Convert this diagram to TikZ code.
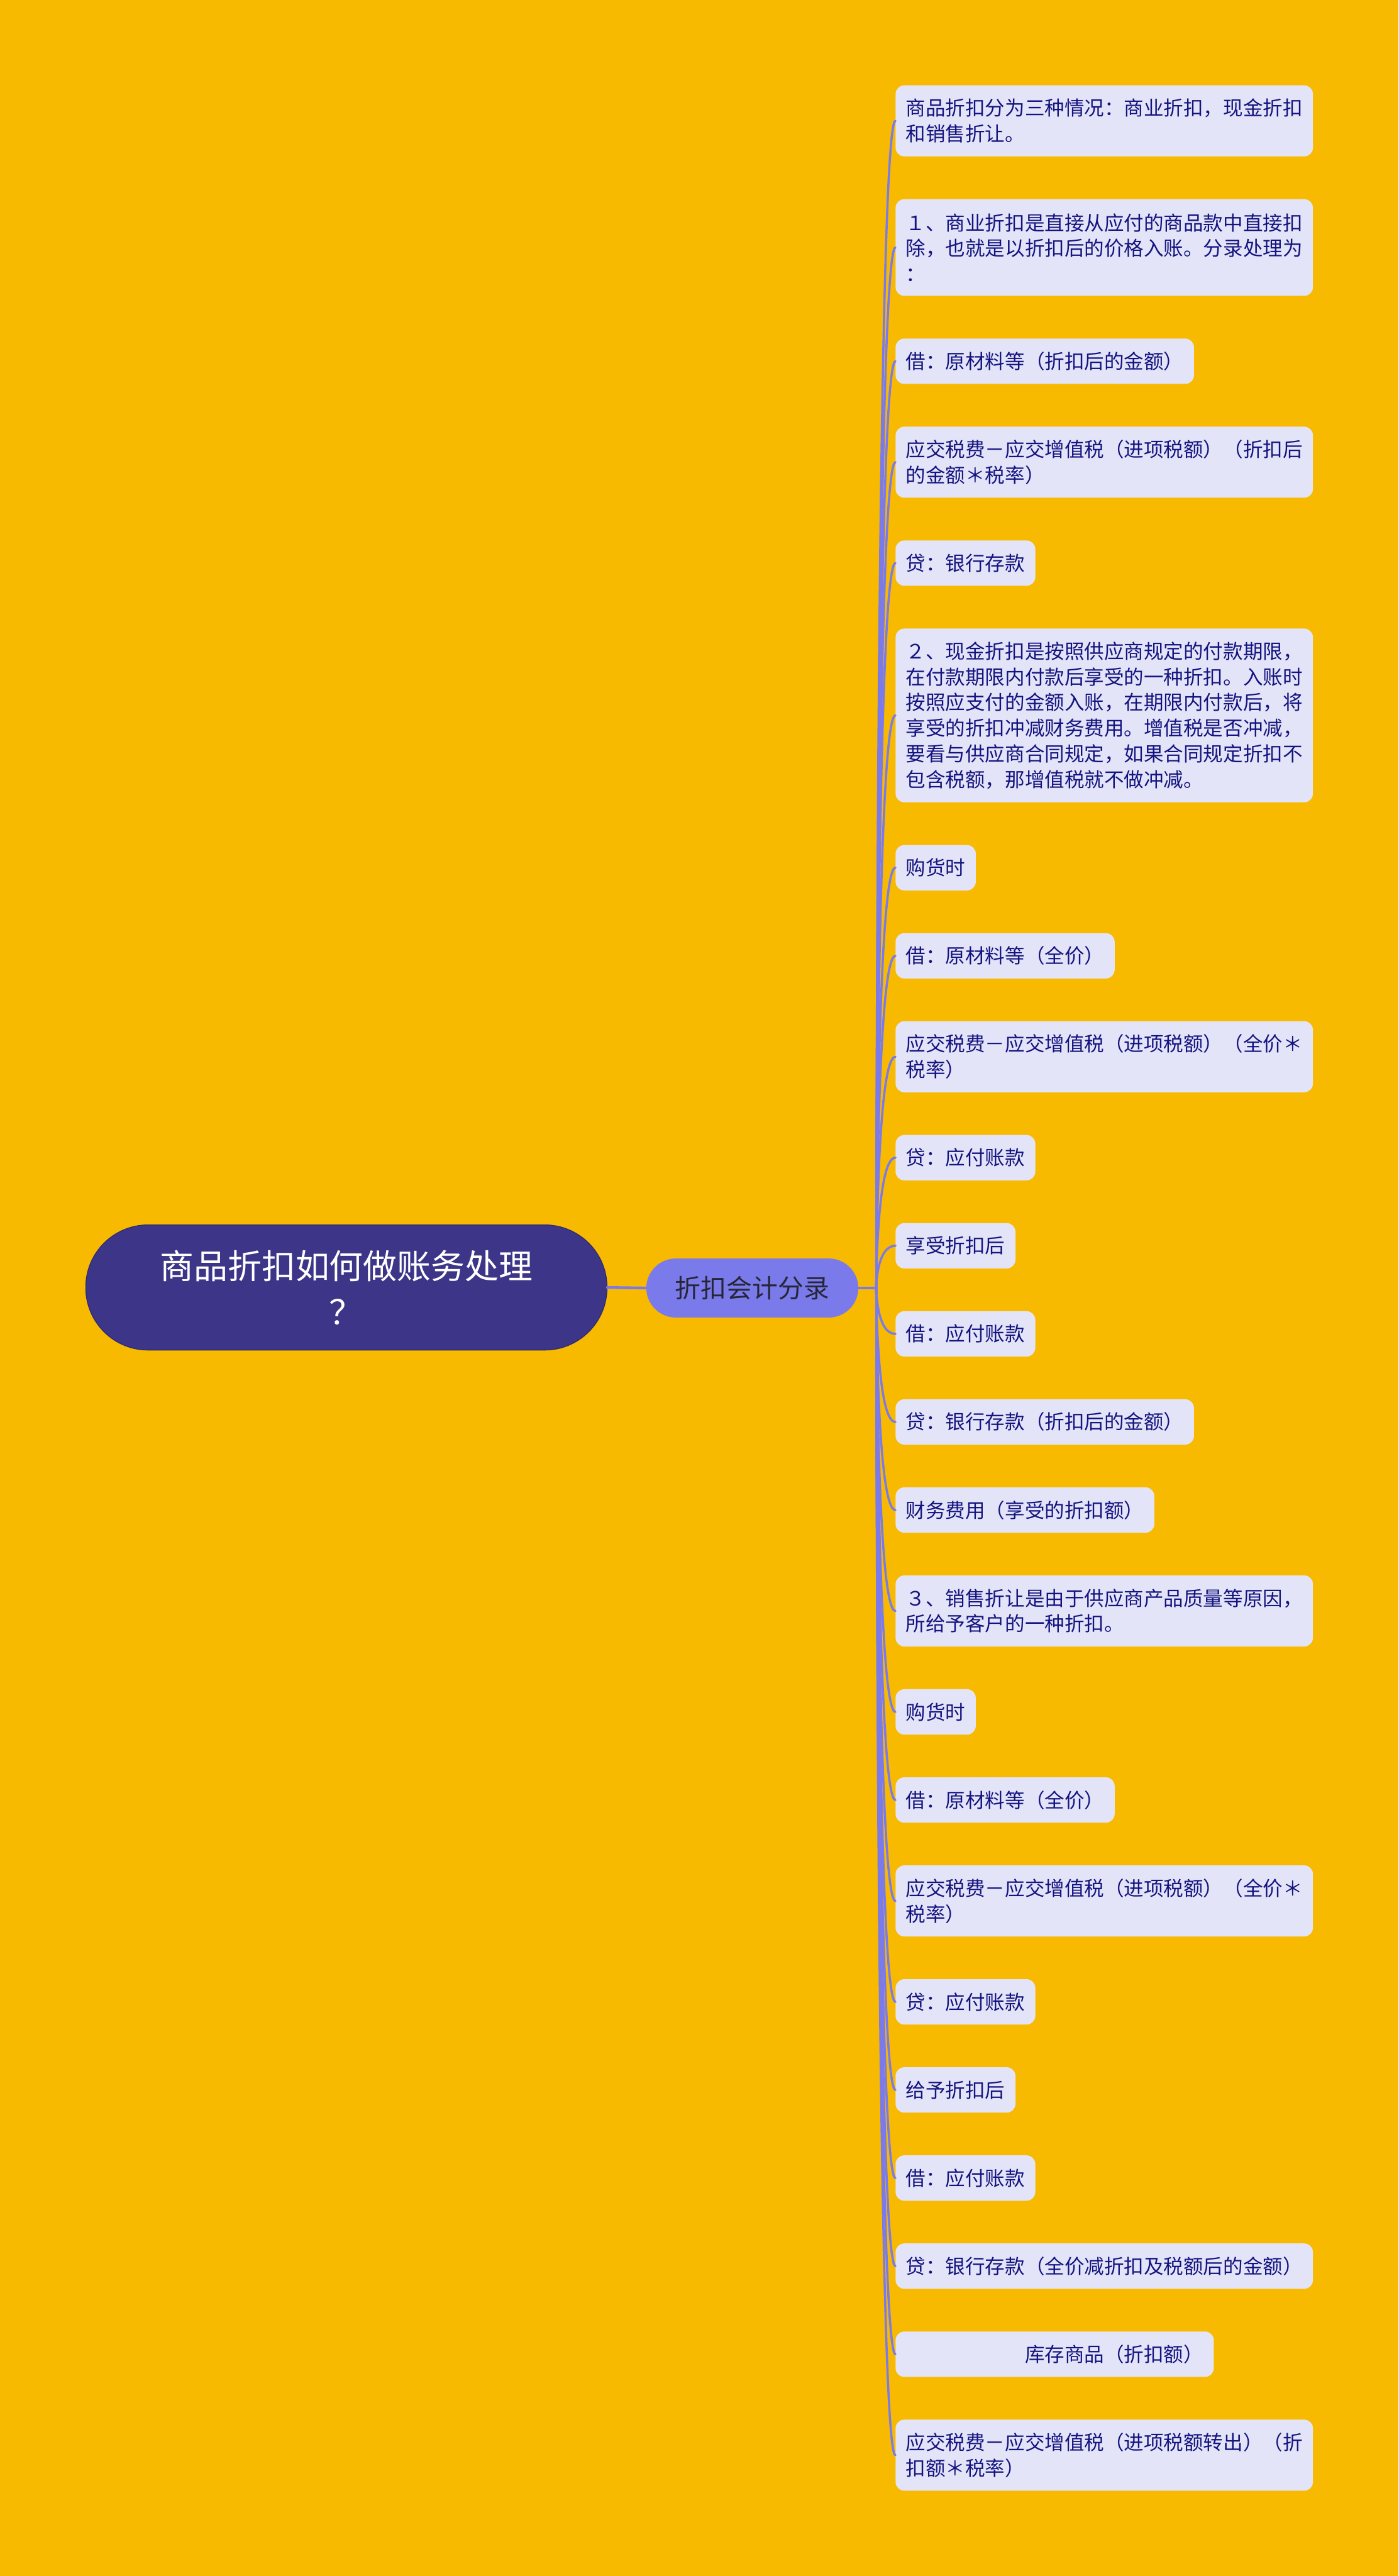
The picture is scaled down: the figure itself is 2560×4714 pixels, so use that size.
\documentclass[tikz,border=0pt]{standalone}
\usepackage{fontspec}
\newfontfamily\cjk{Noto Sans CJK SC}
\definecolor{bgcol}{RGB}{247,186,0}
\definecolor{rootcol}{RGB}{60,53,136}
\definecolor{rootedge}{RGB}{48,42,112}
\definecolor{kidcol}{RGB}{122,122,234}
\definecolor{linecol}{RGB}{122,122,234}
\definecolor{leaffill}{RGB}{228,228,248}
\definecolor{leaftext}{RGB}{20,20,128}
\definecolor{kidtext}{RGB}{38,38,56}
\begin{document}
\begin{tikzpicture}[x=1pt,y=-1pt,
  rootbox/.style={fill=rootcol, draw=rootedge, line width=1.5pt, rounded corners=114pt,
    minimum width=954pt, minimum height=229pt, inner sep=0pt, text=white, align=center,
    font=\cjk\fontsize{62}{84}\selectfont},
  kidbox/.style={fill=kidcol, rounded corners=54pt, minimum width=388pt, minimum height=108pt,
    inner sep=0pt, text=kidtext, font=\cjk\fontsize{47}{56}\selectfont},
  leaf/.style={anchor=north west, fill=leaffill, text=leaftext, rounded corners=16pt,
    inner xsep=19pt, inner ysep=0pt, font=\cjk\fontsize{36.3}{47}\selectfont},
  leafw/.style={leaf, text width=726pt, align=left},
  hone/.style={minimum height=83pt},
  htwo/.style={minimum height=130pt},
  hthree/.style={minimum height=177pt},
  hsix/.style={minimum height=318pt},
  conn/.style={draw=linecol, line width=4pt, line cap=round}
]
\useasboundingbox (0,0) rectangle (2560,4714);
\fill[bgcol] (0,0) rectangle (2560,4714);

\node[rootbox] (root) at (634,2356) {商品折扣如何做账务处理\\？};
\node[kidbox] (kid) at (1377,2357) {折扣会计分录};
\coordinate (bus) at (1604,2357);

\node[leafw,htwo] (l1) at (1639,156) {商品折扣分为三种情况：商业折扣，现金折扣\\和销售折让。};
\node[leafw,hthree] (l2) at (1639,364.2) {１、商业折扣是直接从应付的商品款中直接扣\\除，也就是以折扣后的价格入账。分录处理为\\：};
\node[leaf,hone] (l3) at (1639,619.4) {借：原材料等（折扣后的金额）};
\node[leafw,htwo] (l4) at (1639,780.6) {应交税费－应交增值税（进项税额）（折扣后\\的金额＊税率）};
\node[leaf,hone] (l5) at (1639,988.8) {贷：银行存款};
\node[leafw,hsix] (l6) at (1639,1150) {２、现金折扣是按照供应商规定的付款期限，\\在付款期限内付款后享受的一种折扣。入账时\\按照应支付的金额入账，在期限内付款后，将\\享受的折扣冲减财务费用。增值税是否冲减，\\要看与供应商合同规定，如果合同规定折扣不\\包含税额，那增值税就不做冲减。};
\node[leaf,hone] (l7) at (1639,1546.2) {购货时};
\node[leaf,hone] (l8) at (1639,1707.4) {借：原材料等（全价）};
\node[leafw,htwo] (l9) at (1639,1868.6) {应交税费－应交增值税（进项税额）（全价＊\\税率）};
\node[leaf,hone] (l10) at (1639,2076.8) {贷：应付账款};
\node[leaf,hone] (l11) at (1639,2238) {享受折扣后};
\node[leaf,hone] (l12) at (1639,2399.2) {借：应付账款};
\node[leaf,hone] (l13) at (1639,2560.4) {贷：银行存款（折扣后的金额）};
\node[leaf,hone] (l14) at (1639,2721.6) {财务费用（享受的折扣额）};
\node[leafw,htwo] (l15) at (1639,2882.8) {３、销售折让是由于供应商产品质量等原因，\\所给予客户的一种折扣。};
\node[leaf,hone] (l16) at (1639,3091) {购货时};
\node[leaf,hone] (l17) at (1639,3252.2) {借：原材料等（全价）};
\node[leafw,htwo] (l18) at (1639,3413.4) {应交税费－应交增值税（进项税额）（全价＊\\税率）};
\node[leaf,hone] (l19) at (1639,3621.6) {贷：应付账款};
\node[leaf,hone] (l20) at (1639,3782.8) {给予折扣后};
\node[leaf,hone] (l21) at (1639,3944) {借：应付账款};
\node[leaf,hone] (l22) at (1639,4105.2) {贷：银行存款（全价减折扣及税额后的金额）};
\node[leaf,hone] (l23) at (1639,4266.4) {\hspace*{6em}库存商品（折扣额）};
\node[leafw,htwo] (l24) at (1639,4427.6) {应交税费－应交增值税（进项税额转出）（折\\扣额＊税率）};

\draw[conn, line width=5pt] (root.east) -- (kid.west);
\draw[conn] (kid.east) -- (bus);
\foreach \i in {1,...,24}
  \draw[conn] (bus) .. controls (bus) and (bus |- l\i.west) .. (l\i.west);
\end{tikzpicture}
\end{document}
